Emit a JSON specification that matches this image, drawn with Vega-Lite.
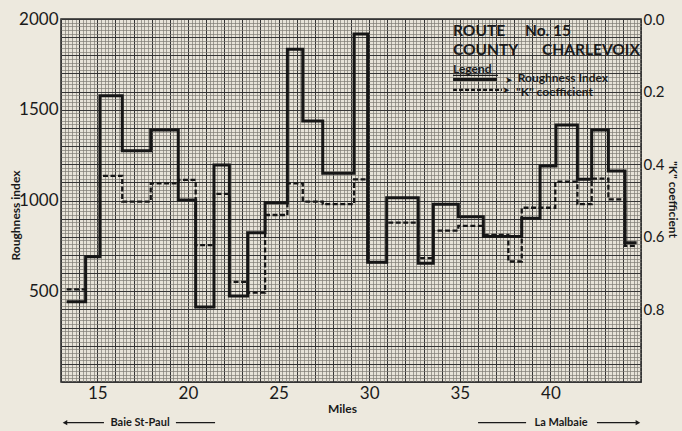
{
  "$schema": "https://vega.github.io/schema/vega-lite/v6.json",
  "width": 580,
  "height": 363,
  "autosize": {"type": "none"},
  "padding": {"left": 61, "top": 19, "right": 41, "bottom": 49},
  "background": "#ede9de",
  "config": {
    "view": {"stroke": "#262626", "strokeWidth": 1.5, "fill": "#e7e3d8"},
    "font": "Lato",
    "axis": {"labelFont": "Lato", "titleFont": "Lato", "labelColor": "#1a1a1a", "titleColor": "#1a1a1a"}
  },
  "datasets": {
    "rough": [
      {"m": 13.31, "r": 442}, {"m": 14.36, "r": 690}, {"m": 15.15, "r": 1577}, {"m": 16.38, "r": 1274},
      {"m": 17.95, "r": 1388}, {"m": 19.47, "r": 1003}, {"m": 20.43, "r": 413}, {"m": 21.44, "r": 1196},
      {"m": 22.29, "r": 474}, {"m": 23.30, "r": 823}, {"m": 24.26, "r": 988}, {"m": 25.49, "r": 1833},
      {"m": 26.34, "r": 1438}, {"m": 27.44, "r": 1150}, {"m": 29.17, "r": 1917}, {"m": 29.92, "r": 660},
      {"m": 30.97, "r": 1015}, {"m": 32.71, "r": 654}, {"m": 33.54, "r": 979}, {"m": 34.92, "r": 911},
      {"m": 36.30, "r": 802}, {"m": 38.42, "r": 902}, {"m": 39.43, "r": 1190}, {"m": 40.31, "r": 1416},
      {"m": 41.49, "r": 1117}, {"m": 42.28, "r": 1388}, {"m": 43.20, "r": 1163}, {"m": 44.12, "r": 767},
      {"m": 44.76, "r": 767}
    ],
    "kcoef": [
      {"m": 13.31, "k": 0.745}, {"m": 14.36, "k": 0.655}, {"m": 15.15, "k": 0.432}, {"m": 16.38, "k": 0.503},
      {"m": 17.95, "k": 0.453}, {"m": 19.47, "k": 0.443}, {"m": 20.43, "k": 0.623}, {"m": 21.44, "k": 0.482},
      {"m": 22.29, "k": 0.724}, {"m": 23.30, "k": 0.754}, {"m": 24.26, "k": 0.540}, {"m": 25.49, "k": 0.453},
      {"m": 26.34, "k": 0.503}, {"m": 27.44, "k": 0.510}, {"m": 29.17, "k": 0.442}, {"m": 29.92, "k": 0.670},
      {"m": 30.97, "k": 0.561}, {"m": 32.71, "k": 0.659}, {"m": 33.54, "k": 0.583}, {"m": 34.92, "k": 0.570},
      {"m": 36.30, "k": 0.595}, {"m": 37.68, "k": 0.668}, {"m": 38.42, "k": 0.520}, {"m": 40.27, "k": 0.448},
      {"m": 41.49, "k": 0.510}, {"m": 42.28, "k": 0.440}, {"m": 43.20, "k": 0.497}, {"m": 44.12, "k": 0.625},
      {"m": 44.76, "k": 0.625}
    ]
  },
  "encoding": {
    "x": {"field": "m", "type": "quantitative", "scale": {"domain": [13, 45], "nice": false, "zero": false}, "axis": null},
    "y": {"field": "r", "type": "quantitative", "scale": {"domain": [0, 2000], "nice": false, "zero": false}, "axis": null}
  },
  "layer": [
    {
      "data": {"name": "rough"},
      "mark": {"type": "line", "strokeOpacity": 0},
      "encoding": {
        "x": {"field": "m", "type": "quantitative", "scale": {"domain": [13, 45], "nice": false, "zero": false},
          "axis": {"orient": "bottom", "grid": true, "gridColor": "#7e7b74", "gridWidth": 0.7, "tickCount": 160, "labels": false, "ticks": false, "domain": false, "title": null}},
        "y": {"field": "r", "type": "quantitative", "scale": {"domain": [0, 2000], "nice": false, "zero": false},
          "axis": {"orient": "left", "grid": true, "gridColor": "#7e7b74", "gridWidth": 0.7, "tickCount": 100, "labels": false, "ticks": false, "domain": false, "title": null}}
      }
    },
    {
      "data": {"name": "rough"},
      "mark": {"type": "line", "interpolate": "step-after", "color": "#161616", "strokeWidth": 3},
      "encoding": {
        "x": {"field": "m", "type": "quantitative", "scale": {"domain": [13, 45], "nice": false, "zero": false},
          "axis": {"orient": "bottom", "grid": true, "gridColor": "#353535", "gridWidth": 1, "tickCount": 32, "ticks": false, "domain": false, "format": "d",
            "labelExpr": "datum.value % 5 === 0 && datum.value < 45 ? datum.label : ''", "labelOverlap": false, "labelBound": false, "labelFlush": false,
            "labelFontSize": 17, "labelPadding": 3, "title": "Miles", "titleFontSize": 12, "titleFontWeight": "bold", "titleX": 281, "titleY": 26, "titleBaseline": "middle"}},
        "y": {"field": "r", "type": "quantitative", "scale": {"domain": [0, 2000], "nice": false, "zero": false},
          "axis": {"orient": "left", "grid": true, "gridColor": "#353535", "gridWidth": 1, "tickCount": 20, "ticks": false, "domain": false, "format": "d",
            "labelExpr": "datum.value % 500 === 0 && datum.value > 0 ? datum.label : ''", "labelOverlap": false, "labelBound": false, "labelFlush": false,
            "labelFontSize": 17, "labelPadding": 3, "title": "Roughness index", "titleFontSize": 12, "titleFontWeight": "bold", "titleX": -46, "titleY": 196, "titleBaseline": "middle", "titleAngle": -90}}
      }
    },
    {
      "data": {"name": "kcoef"},
      "mark": {"type": "line", "interpolate": "step-after", "color": "#161616", "strokeWidth": 2.3, "strokeDash": [5, 2.5]},
      "encoding": {
        "y": {"field": "k", "type": "quantitative", "scale": {"domain": [0, 1], "reverse": true, "nice": false, "zero": false},
          "axis": {"orient": "right", "values": [0, 0.2, 0.4, 0.6, 0.8], "format": ".1f", "grid": false, "ticks": false, "domain": false, "labelFlush": false,
            "labelFontSize": 15, "labelPadding": 2, "title": "\"K\" coefficient", "titleFontSize": 12, "titleFontWeight": "bold", "titleX": 31, "titleY": 180, "titleBaseline": "middle", "titleAngle": 90}}
      }
    },
    {
      "data": {"values": [
        {"t": "ROUTE", "m": 34.63, "r": 1908}, {"t": "No. 15", "m": 38.6, "r": 1908},
        {"t": "COUNTY", "m": 34.63, "r": 1802}, {"t": "CHARLEVOIX", "m": 39.54, "r": 1802}
      ]},
      "mark": {"type": "text", "align": "left", "baseline": "alphabetic", "font": "Lato", "fontSize": 15.5, "fontWeight": "bold", "color": "#1a1a1a"},
      "encoding": {"text": {"field": "t"}}
    },
    {
      "data": {"values": [{"t": "Legend", "m": 34.63, "r": 1700}]},
      "mark": {"type": "text", "align": "left", "baseline": "alphabetic", "font": "Lato", "fontSize": 12, "fontWeight": "bold", "color": "#1a1a1a"},
      "encoding": {"text": {"field": "t"}}
    },
    {
      "data": {"values": [
        {"t": "Roughness Index", "m": 38.2, "r": 1653},
        {"t": "\"K\" coefficient", "m": 38.1, "r": 1574}
      ]},
      "mark": {"type": "text", "align": "left", "baseline": "alphabetic", "font": "Lato", "fontSize": 12, "fontWeight": "bold", "color": "#1a1a1a"},
      "encoding": {"text": {"field": "t"}}
    },
    {
      "data": {"values": [
        {"t": "➤", "m": 37.7, "r": 1664},
        {"t": "➤", "m": 37.55, "r": 1609}
      ]},
      "mark": {"type": "text", "align": "center", "baseline": "middle", "font": "DejaVu Sans", "fontSize": 9, "color": "#1a1a1a"},
      "encoding": {"text": {"field": "t"}}
    },
    {
      "data": {"values": [{"m": 34.63, "m2": 37.11, "r": 1689}]},
      "mark": {"type": "rule", "color": "#1a1a1a", "strokeWidth": 1.2},
      "encoding": {"x2": {"field": "m2"}}
    },
    {
      "data": {"values": [{"m": 34.63, "m2": 37.06, "r": 1666}]},
      "mark": {"type": "rule", "color": "#161616", "strokeWidth": 3},
      "encoding": {"x2": {"field": "m2"}}
    },
    {
      "data": {"values": [{"m": 34.63, "m2": 37.33, "r": 1610}]},
      "mark": {"type": "rule", "color": "#161616", "strokeWidth": 2.3, "strokeDash": [4, 2]},
      "encoding": {"x2": {"field": "m2"}}
    },
    {
      "data": {"values": [
        {"m": 13.22, "m2": 15.37, "r": -224}, {"m": 19.34, "m2": 21.5, "r": -224},
        {"m": 36.01, "m2": 38.66, "r": -224}, {"m": 42.57, "m2": 44.72, "r": -224}
      ]},
      "mark": {"type": "rule", "color": "#1a1a1a", "strokeWidth": 1.3},
      "encoding": {"x2": {"field": "m2"}}
    },
    {
      "data": {"values": [{"m": 13.22, "r": -224}]},
      "mark": {"type": "point", "shape": "triangle-left", "filled": true, "size": 28, "color": "#1a1a1a", "opacity": 1}
    },
    {
      "data": {"values": [{"m": 44.83, "r": -224}]},
      "mark": {"type": "point", "shape": "triangle-right", "filled": true, "size": 28, "color": "#1a1a1a", "opacity": 1}
    },
    {
      "data": {"values": [
        {"t": "Baie  St-Paul", "m": 17.36, "r": -224},
        {"t": "La  Malbaie", "m": 40.59, "r": -224}
      ]},
      "mark": {"type": "text", "align": "center", "baseline": "middle", "font": "Lato", "fontSize": 11, "fontWeight": "bold", "color": "#1a1a1a"},
      "encoding": {"text": {"field": "t"}}
    }
  ],
  "resolve": {"scale": {"x": "independent", "y": "independent"}}
}
